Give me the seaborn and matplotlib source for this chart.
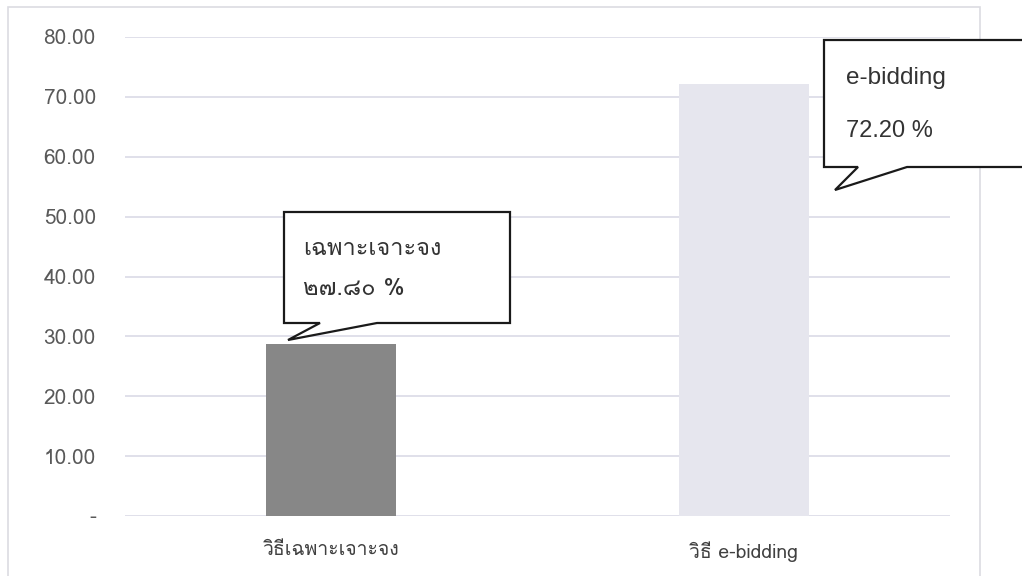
import matplotlib
matplotlib.use("Agg")
import matplotlib.pyplot as plt
from matplotlib import font_manager
from matplotlib.ft2font import FT2Font
from matplotlib.patches import Polygon, Rectangle
import seaborn as sns
import pandas as pd

categories = ["วิธีเฉพาะเจาะจง", "วิธี e-bidding"]
values = [28.7, 72.2]
callout_titles = ["เฉพาะเจาะจง", "e-bidding"]
callout_values = ["๒๗.๘๐ %", "72.20 %"]
y_ticks = [0, 10, 20, 30, 40, 50, 60, 70, 80]
y_tick_labels = ["-", "10.00", "20.00", "30.00", "40.00", "50.00", "60.00", "70.00", "80.00"]

bar_colors = ["#878787", "#e6e6ee"]


def find_thai_fonts():
    # look for an installed family that has Thai glyphs
    found = []
    for f in font_manager.fontManager.ttflist:
        try:
            cmap = FT2Font(f.fname).get_charmap()
        except Exception:
            continue
        if 0x0E27 in cmap and f.name not in found:
            found.append(f.name)
    return found


sns.set_style("white")
thai = find_thai_fonts()
plt.rcParams["font.family"] = thai + ["DejaVu Sans"]
latin = ["Liberation Sans", "DejaVu Sans"]

W, H = 1022, 576
fig = plt.figure(figsize=(W / 100, H / 100), dpi=100)
ax = fig.add_axes([125 / W, (H - 516) / H, 825 / W, 479 / H])

df = pd.DataFrame({"method": categories, "pct": values})
sns.barplot(data=df, x="method", y="pct", hue="method", palette=bar_colors,
            width=0.315, legend=False, ax=ax, saturation=1, linewidth=0)

ax.set_ylim(0, 80)
ax.set_xlim(-0.5, 1.5)
ax.set_yticks(y_ticks)
ax.set_yticklabels(y_tick_labels)
ax.yaxis.grid(True, color="#dadae6", linewidth=1.2)
ax.set_axisbelow(True)
for s in ax.spines.values():
    s.set_visible(False)
ax.tick_params(axis="y", length=0, pad=21, labelsize=15, labelcolor="#595959")
ax.tick_params(axis="x", length=0, pad=18, labelsize=14, labelcolor="#404040")
ax.set_xlabel("")
ax.set_ylabel("")


def px(x, y):
    return (x / W, 1 - y / H)


# outer chart border
fig.patches.append(Rectangle(px(8, 590), 972 / W, 583 / H, transform=fig.transFigure,
                             fill=False, edgecolor="#dcdce2", linewidth=1.2))

# callout boxes (pixel outlines)
box1 = [(284, 212), (510, 212), (510, 323), (377, 323), (288, 340), (320, 323), (284, 323)]
box2 = [(824, 40), (1040, 40), (1040, 167), (907, 167), (835, 190), (858, 167), (824, 167)]
for pts in (box1, box2):
    fig.patches.append(Polygon([px(*p) for p in pts], closed=True, transform=fig.transFigure,
                               facecolor="white", edgecolor="#1a1a1a", linewidth=1.6, zorder=5))

fig.text(*px(303, 255), callout_titles[0], fontsize=17, color="#333333", zorder=6)
fig.text(*px(303, 295), callout_values[0], fontsize=17, color="#333333", zorder=6)
fig.text(*px(846, 84), callout_titles[1], fontsize=17.5, color="#333333", zorder=6, family=latin)
fig.text(*px(846, 137), callout_values[1], fontsize=17, color="#333333", zorder=6, family=latin)

fig.savefig("out.png", dpi=100)
